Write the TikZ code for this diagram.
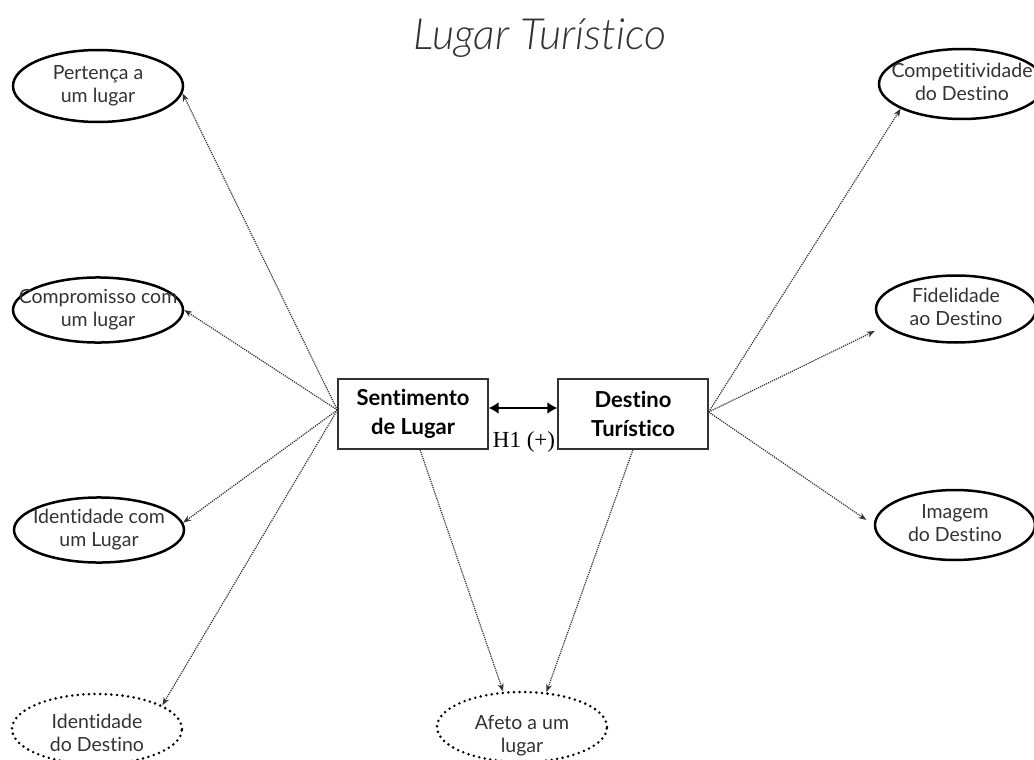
\documentclass[tikz,border=0pt]{standalone}
\usepackage{fontspec}
\setmainfont{Lato}[Ligatures=NoCommon]
\newfontfamily\titlefont{Lato Light Italic}[Ligatures=NoCommon]
\newfontfamily\hfont{Liberation Serif}
\usetikzlibrary{arrows.meta,shapes.geometric}

% text of an ellipse, kept from widening the shape
\newcommand{\inside}[2][0pt]{\raisebox{#1}[\height][\depth]{\makebox[0pt]{\begin{tabular}{@{}c@{}}#2\end{tabular}}}}

\tikzset{
  concept/.style={ellipse, draw=black, line width=2.5pt, minimum width=170pt,
    minimum height=68pt, inner sep=0pt, text=black!80,
    font=\fontsize{19.5}{23}\selectfont},
  latent/.style={concept, dash pattern=on 0pt off 5.6pt, line cap=round,
    line width=2.8pt, minimum height=70pt},
  construct/.style={rectangle, draw=black!80, line width=1.3pt,
    minimum width=150pt, minimum height=70pt, align=center,
    font=\fontsize{22}{29}\selectfont\bfseries},
  link/.style={densely dotted, line width=1.2pt, draw=black!80,
    -{Stealth[length=8pt,width=6pt]}},
}

\begin{document}
\begin{tikzpicture}[x=1pt,y=-1pt]
\clip (0,0) rectangle (1034,760);

\node[font=\titlefont\fontsize{43}{48}\selectfont, text=black!80] (title) at (540,38) {Lugar Turístico};

% the two constructs
\node[construct] (sent) at (413,414) {Sentimento\\de Lugar};
\node[construct] (dest) at (633,414) {Destino\\Turístico};
\node[font=\hfont\fontsize{23}{26}\selectfont] (h1) at (524,442) {H1 (+)};

% dimensions of place
\node[concept, minimum height=72pt] (pert) at (98,86) {\inside{Pertença a\\um lugar}};
\node[concept, minimum height=58pt] (comp) at (98,310) {\inside{Compromisso com\\um lugar}};
\node[concept, minimum height=64pt] (idl) at (99,530) {\inside{Identidade com\\um Lugar}};
\node[latent] (idd) at (97,729) {\inside[-6pt]{Identidade\\do Destino}};
\node[latent] (afeto) at (522,727) {\inside[-9pt]{Afeto a um\\lugar}};

% dimensions of destination
\node[concept, minimum width=166pt, minimum height=70pt] (compd) at (962,84) {\inside{Competitividade\\do Destino}};
\node[concept, minimum width=160pt, minimum height=67pt] (fid) at (956,309) {\inside{Fidelidade\\ao Destino}};
\node[concept, minimum width=160pt, minimum height=70pt] (img) at (955,525) {\inside{Imagem\\do Destino}};

\draw[line width=2.6pt, {Latex[length=10pt,width=12pt]}-{Latex[length=10pt,width=12pt]}]
  ([yshift=6pt]sent.east) -- ([yshift=6pt]dest.west);

\draw[link] ([yshift=4pt]sent.west) -- (pert.-5);
\draw[link] ([yshift=4pt]sent.west) -- (comp.east);
\draw[link] ([yshift=4pt]sent.west) -- (idl.5);
\draw[link] ([yshift=4pt]sent.west) -- (idd.20);
\draw[link] ([xshift=7pt]sent.south) -- (afeto.118);

\draw[link] ([yshift=2pt]dest.east) -- (compd.202);
\draw[link] ([yshift=2pt]dest.east) -- ([yshift=-22pt]fid.west);
\draw[link, shorten >=9pt] ([yshift=2pt]dest.east) -- (img.west);
\draw[link] (dest.south) -- (afeto.55);
\end{tikzpicture}
\end{document}
